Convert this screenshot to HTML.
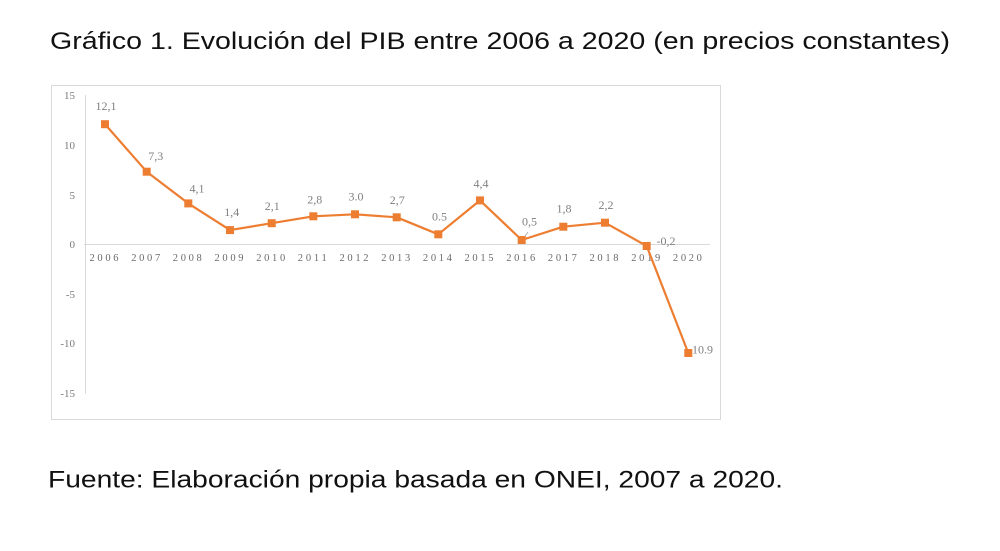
<!DOCTYPE html>
<html>
<head>
<meta charset="utf-8">
<style>
  html, body { margin:0; padding:0; background:#fff; }
  svg { display:block; }
</style>
</head>
<body>
<svg width="1000" height="551" viewBox="0 0 1000 551" xmlns="http://www.w3.org/2000/svg">
  <rect width="1000" height="551" fill="#fff"/>
  <!-- Title -->
  <text x="50" y="49" font-family="Liberation Sans, Arial, sans-serif" font-size="24" fill="#111" textLength="900" lengthAdjust="spacingAndGlyphs">Gráfico 1. Evolución del PIB entre 2006 a 2020 (en precios constantes)</text>

  <!-- Chart frame -->
  <rect x="51.5" y="85.5" width="669" height="334" fill="#fff" stroke="#d9d9d9" stroke-width="1"/>

  <!-- Axis lines -->
  <line x1="85.5" y1="95" x2="85.5" y2="394" stroke="#d9d9d9" stroke-width="1"/>
  <line x1="84" y1="244.5" x2="710" y2="244.5" stroke="#d9d9d9" stroke-width="1"/>

  <!-- Y labels -->
  <g font-family="Liberation Serif, 'Times New Roman', serif" font-size="11" fill="#7a7a7a" text-anchor="end">
    <text x="75" y="99">15</text>
    <text x="75" y="149">10</text>
    <text x="75" y="199">5</text>
    <text x="75" y="248">0</text>
    <text x="75" y="298">-5</text>
    <text x="75" y="347">-10</text>
    <text x="75" y="397">-15</text>
  </g>

  <!-- X labels -->
  <g font-family="Liberation Serif, 'Times New Roman', serif" font-size="10.5" fill="#6b6b6b">
    <text x="89.5" y="261" textLength="29" lengthAdjust="spacing">2006</text>
    <text x="131.2" y="261" textLength="29" lengthAdjust="spacing">2007</text>
    <text x="172.8" y="261" textLength="29" lengthAdjust="spacing">2008</text>
    <text x="214.5" y="261" textLength="29" lengthAdjust="spacing">2009</text>
    <text x="256.2" y="261" textLength="29" lengthAdjust="spacing">2010</text>
    <text x="297.8" y="261" textLength="29" lengthAdjust="spacing">2011</text>
    <text x="339.5" y="261" textLength="29" lengthAdjust="spacing">2012</text>
    <text x="381.2" y="261" textLength="29" lengthAdjust="spacing">2013</text>
    <text x="422.9" y="261" textLength="29" lengthAdjust="spacing">2014</text>
    <text x="464.5" y="261" textLength="29" lengthAdjust="spacing">2015</text>
    <text x="506.2" y="261" textLength="29" lengthAdjust="spacing">2016</text>
    <text x="547.9" y="261" textLength="29" lengthAdjust="spacing">2017</text>
    <text x="589.5" y="261" textLength="29" lengthAdjust="spacing">2018</text>
    <text x="631.2" y="261" textLength="29" lengthAdjust="spacing">2019</text>
    <text x="672.9" y="261" textLength="29" lengthAdjust="spacing">2020</text>
  </g>

  <!-- Data labels -->
  <g font-family="Liberation Serif, 'Times New Roman', serif" font-size="12" fill="#808080" text-anchor="middle">
    <text x="106" y="110">12,1</text>
    <text x="155.7" y="160">7,3</text>
    <text x="197" y="192.5">4,1</text>
    <text x="231.7" y="216">1,4</text>
    <text x="272.3" y="210">2,1</text>
    <text x="314.7" y="203.3">2,8</text>
    <text x="356" y="200.7">3.0</text>
    <text x="397.2" y="204">2,7</text>
    <text x="439.5" y="220.7">0.5</text>
    <text x="481" y="187.3">4,4</text>
    <text x="529.5" y="225.7">0,5</text>
    <text x="564" y="212.7">1,8</text>
    <text x="606" y="209">2,2</text>
    <text x="666" y="245">-0,2</text>
    <text x="688" y="353.5" text-anchor="start">-10.9</text>
  </g>
  <!-- leader line for 2016 -->
  <line x1="523" y1="239" x2="528" y2="232" stroke="#a6a6a6" stroke-width="0.8"/>

  <!-- Series line -->
  <polyline fill="none" stroke="#ED7D31" stroke-width="2.2" stroke-linejoin="round"
    points="105,124.2 146.7,171.7 188.3,203.4 230,230.1 271.7,223.2 313.3,216.3 355,214.3 396.7,217.3 438.3,234.3 480,200.4 521.7,240 563.3,226.7 605,222.7 646.7,246 688.3,353"/>

  <!-- Markers -->
  <g fill="#ED7D31">
    <rect x="101" y="120.2" width="8" height="8"/>
    <rect x="142.7" y="167.7" width="8" height="8"/>
    <rect x="184.3" y="199.4" width="8" height="8"/>
    <rect x="226" y="226.1" width="8" height="8"/>
    <rect x="267.7" y="219.2" width="8" height="8"/>
    <rect x="309.3" y="212.3" width="8" height="8"/>
    <rect x="351" y="210.3" width="8" height="8"/>
    <rect x="392.7" y="213.3" width="8" height="8"/>
    <rect x="434.3" y="230.3" width="8" height="8"/>
    <rect x="476" y="196.4" width="8" height="8"/>
    <rect x="517.7" y="236" width="8" height="8"/>
    <rect x="559.3" y="222.7" width="8" height="8"/>
    <rect x="601" y="218.7" width="8" height="8"/>
    <rect x="642.7" y="242" width="8" height="8"/>
    <rect x="684.3" y="349" width="8" height="8"/>
  </g>

  <!-- Footer -->
  <text x="48" y="487.5" font-family="Liberation Sans, Arial, sans-serif" font-size="24" fill="#111" textLength="735" lengthAdjust="spacingAndGlyphs">Fuente: Elaboración propia basada en ONEI, 2007 a 2020.</text>
</svg>
</body>
</html>
